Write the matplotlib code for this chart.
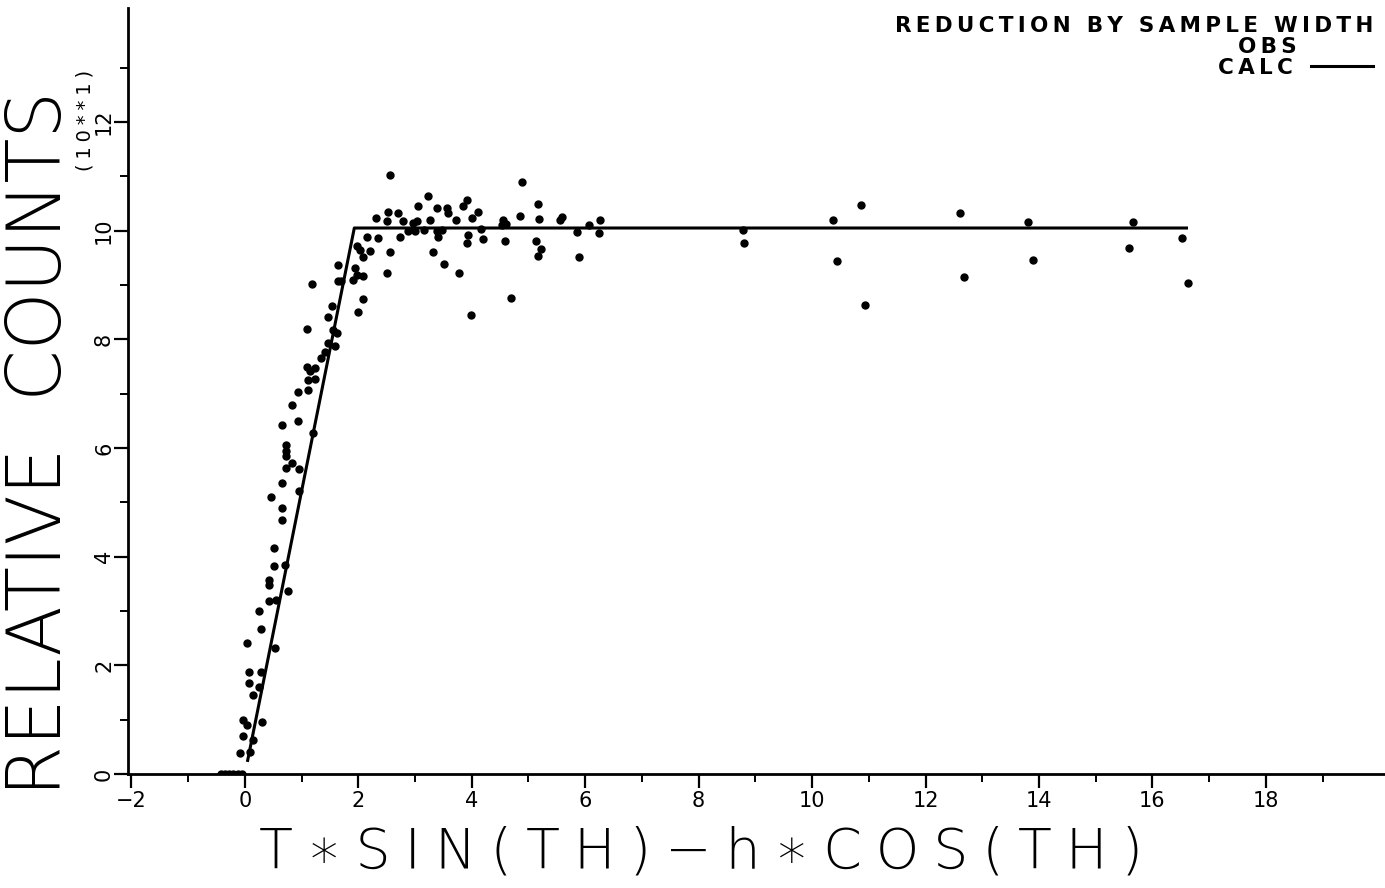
import numpy as np
import matplotlib
matplotlib.use("Agg")
import matplotlib.pyplot as plt

# observed points (x, y in units of 10**1 counts)
obs_x = [-0.42, -0.35, -0.28, -0.20, -0.12, -0.05,
         -0.09, 0.09, -0.04, 0.15, -0.04, 0.03, 0.31, 0.14, 0.25, 0.08, 0.08, 0.28,
         0.53, 0.03, 0.29, 0.25, 0.43, 0.55, 0.76, 0.43, 0.43, 0.71, 0.51, 0.51,
         0.65, 0.66, 0.47, 0.96, 0.65, 0.96, 0.72, 0.84, 0.72, 0.72, 0.72, 1.20,
         0.65, 0.94,
         0.84, 0.94, 1.12, 1.12, 1.23, 1.09, 1.23, 1.15, 1.41, 1.35, 1.47, 1.59,
         1.09, 1.56, 1.62, 1.47, 1.53, 1.18, 1.64, 1.70, 1.65,
         1.91, 1.94, 1.97, 2.09, 2.09, 1.99, 1.97, 2.03, 2.09, 2.20, 2.56, 2.51,
         2.15, 2.35, 2.73, 3.41, 3.32, 3.52, 3.78, 3.98, 3.94, 4.20, 3.91,
         2.32, 2.50, 2.53, 2.70, 2.79, 2.97, 3.03, 3.26, 2.88, 3.00, 3.15, 3.38,
         3.47, 3.73, 4.00, 3.59, 3.39, 3.56, 3.06, 3.23, 3.85, 3.91, 4.11, 2.56,
         4.88, 5.17, 4.85, 5.19, 4.56, 4.61, 4.53, 5.59, 5.56, 6.27, 6.06, 4.16,
         4.59, 5.13, 5.23, 5.17, 5.85, 6.24, 5.89, 4.70, 8.78, 8.80,
         10.37, 10.44, 10.86, 10.93, 12.61, 12.68, 13.81, 13.90, 15.66, 15.59,
         16.53, 16.63]
obs_y = [0, 0, 0, 0, 0, 0,
         0.38, 0.41, 0.70, 0.63, 1.00, 0.90, 0.96, 1.45, 1.61, 1.68, 1.88, 1.88,
         2.31, 2.42, 2.67, 3.00, 3.19, 3.20, 3.36, 3.48, 3.57, 3.85, 3.82, 4.16,
         4.68, 4.89, 5.10, 5.20, 5.36, 5.61, 5.63, 5.72, 5.85, 5.95, 6.06, 6.27,
         6.43, 6.50,
         6.80, 7.04, 7.07, 7.26, 7.27, 7.50, 7.47, 7.41, 7.77, 7.65, 7.93, 7.87,
         8.19, 8.18, 8.11, 8.42, 8.62, 9.02, 9.07, 9.07, 9.37,
         9.10, 9.31, 9.19, 9.17, 8.74, 8.50, 9.71, 9.64, 9.52, 9.62, 9.60, 9.22,
         9.88, 9.86, 9.88, 9.88, 9.60, 9.39, 9.22, 8.45, 9.93, 9.84, 9.78,
         10.23, 10.17, 10.35, 10.32, 10.17, 10.14, 10.17, 10.20, 10.00, 10.00, 10.02, 10.00,
         10.02, 10.20, 10.23, 10.32, 10.42, 10.42, 10.46, 10.64, 10.46, 10.57, 10.35, 11.03,
         10.89, 10.50, 10.28, 10.22, 10.20, 10.13, 10.11, 10.26, 10.20, 10.20, 10.11, 10.03,
         9.82, 9.82, 9.67, 9.54, 9.98, 9.95, 9.52, 8.76, 10.02, 9.78,
         10.19, 9.44, 10.47, 8.64, 10.33, 9.15, 10.16, 9.47, 10.16, 9.69,
         9.86, 9.04]

# calculated curve
calc_x = [0.05, 1.93, 16.60]
calc_y = [0.25, 10.05, 10.05]

x_major = [-2, 0, 2, 4, 6, 8, 10, 12, 14, 16, 18]
y_major = [0, 2, 4, 6, 8, 10, 12]


def track(s, sp="\u2005"):
    # old plotter lettering is widely spaced
    return sp.join(s)


W, H = 1385.0, 888.0
fig = plt.figure(figsize=(13.85, 8.88), dpi=100)
ax = fig.add_axes([0.0924, 0.1284, 0.9076, 0.8626])

ax.plot(obs_x, obs_y, "o", color="black", markersize=5)
calc_line, = ax.plot(calc_x, calc_y, "-", color="black", linewidth=2.2)

ax.set_xlim(-2.06, 20.1)
ax.set_ylim(0, 14.1)
ax.spines["top"].set_visible(False)
ax.spines["right"].set_visible(False)
ax.spines["left"].set_linewidth(2)
ax.spines["bottom"].set_linewidth(2)

ax.set_xticks(x_major)
ax.set_xticks(np.arange(-1, 20, 2), minor=True)
ax.set_yticks(y_major)
ax.set_yticks(np.arange(1, 14, 2), minor=True)
ax.tick_params(axis="both", which="major", length=10, width=1.6, direction="out", labelsize=15)
ax.tick_params(axis="both", which="minor", length=6, width=1.4, direction="out")
ax.tick_params(axis="x", pad=2)
ax.tick_params(axis="y", pad=0)
for lab in ax.get_yticklabels():
    lab.set_rotation(90)
    lab.set_va("center")
for lab in ax.get_xticklabels() + ax.get_yticklabels():
    lab.set_family("DejaVu Sans")

fig.text(85 / W, 1 - 120 / H, track("(10**1)"), rotation=90, ha="center", va="center",
         fontsize=14, family="DejaVu Sans")

thin = ["DejaVu Sans", "Liberation Sans"]
fig.text(40 / W, 1 - 443 / H, "RELATIVE  COUNTS", rotation=90, ha="center", va="center",
         fontsize=53, family=thin, fontweight="ultralight")
fig.text(701 / W, 1 - 853 / H, track("T\u2217SIN(TH)\u2212h\u2217COS(TH)"),
         ha="center", va="center", fontsize=40, family=thin, fontweight="ultralight")

head = ["DejaVu Sans", "Liberation Sans"]
fig.text(1373 / W, 1 - 26 / H, track("REDUCTION BY SAMPLE WIDTH", "\u2009"), ha="right",
         va="center", fontsize=15.5, family=head, fontweight="bold")
fig.text(1297 / W, 1 - 47 / H, track("OBS", "\u2009"), ha="right", va="center",
         fontsize=15.5, family=head, fontweight="bold")
leg = fig.legend([calc_line], [track("CALC", "\u2009")], loc="center right",
                 bbox_to_anchor=(1373 / W, 1 - 68 / H), frameon=False,
                 markerfirst=False, borderpad=0, borderaxespad=0,
                 handlelength=2.9, handletextpad=0.8,
                 prop={"family": head, "size": 15.5, "weight": "bold"})

fig.savefig("out.png", dpi=100)
